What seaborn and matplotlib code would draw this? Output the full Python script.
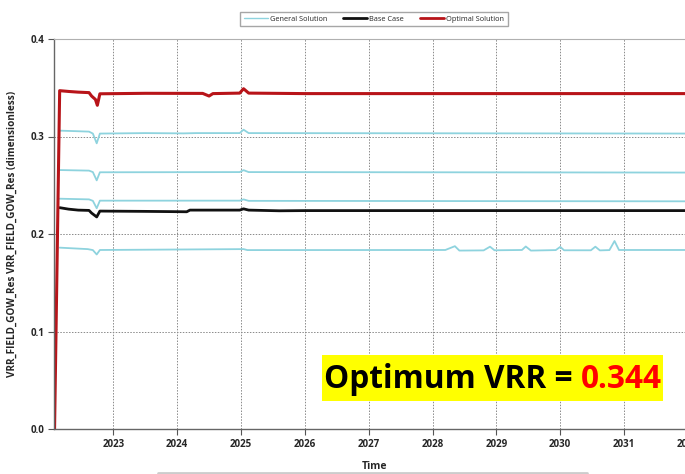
import matplotlib
matplotlib.use("Agg")
import matplotlib.pyplot as plt
import seaborn as sns
import pandas as pd
from matplotlib.lines import Line2D
from matplotlib.patches import Rectangle

# ---- data ----
t_red = [2022.08, 2022.16, 2022.30, 2022.45, 2022.62, 2022.66, 2022.72, 2022.75, 2022.79,
         2023.50, 2024.40, 2024.50, 2024.56, 2024.98, 2025.04, 2025.12, 2026.00, 2028.00, 2032.20]
v_red = [0.0, 0.347, 0.3462, 0.3455, 0.345, 0.3415, 0.338, 0.332, 0.3438,
         0.3443, 0.3442, 0.3415, 0.3440, 0.3445, 0.349, 0.3445, 0.3440, 0.3440, 0.3440]

t_base = [2022.16, 2022.30, 2022.45, 2022.62, 2022.66, 2022.74, 2022.79, 2023.50, 2024.15,
          2024.20, 2024.98, 2025.04, 2025.12, 2025.60, 2026.00, 2032.20]
v_base = [0.2270, 0.2255, 0.2245, 0.2242, 0.2215, 0.2175, 0.2235, 0.2232, 0.2228,
          0.2245, 0.2245, 0.2258, 0.2245, 0.2238, 0.2240, 0.2240]

t_gen1 = [2022.16, 2022.40, 2022.62, 2022.68, 2022.74, 2022.79, 2023.50, 2024.10, 2024.30,
          2024.98, 2025.04, 2025.12, 2032.20]
v_gen1 = [0.3060, 0.3055, 0.3050, 0.3030, 0.2930, 0.3030, 0.3035, 0.3032, 0.3035,
          0.3035, 0.3070, 0.3035, 0.3030]

t_gen2 = [2022.16, 2022.62, 2022.68, 2022.74, 2022.79, 2024.98, 2025.04, 2025.12, 2032.20]
v_gen2 = [0.2656, 0.2650, 0.2635, 0.2550, 0.2633, 0.2635, 0.2655, 0.2635, 0.2630]

t_gen3 = [2022.16, 2022.62, 2022.68, 2022.74, 2022.79, 2024.98, 2025.04, 2025.12, 2032.20]
v_gen3 = [0.2362, 0.2355, 0.2340, 0.2264, 0.2342, 0.2342, 0.2355, 0.2340, 0.2335]

t_gen4 = [2022.16, 2022.60, 2022.68, 2022.74, 2022.79, 2025.04, 2025.10, 2028.20, 2028.35,
          2028.42, 2028.80, 2028.90, 2028.97, 2029.40, 2029.46, 2029.54, 2029.93, 2030.00,
          2030.06, 2030.48, 2030.55, 2030.62, 2030.77, 2030.85, 2030.92, 2032.20]
v_gen4 = [0.1860, 0.1845, 0.1835, 0.1790, 0.1836, 0.1845, 0.1835, 0.1836, 0.1875,
          0.1830, 0.1832, 0.1870, 0.1833, 0.1836, 0.1872, 0.1830, 0.1835, 0.1868,
          0.1833, 0.1833, 0.1870, 0.1832, 0.1835, 0.1928, 0.1836, 0.1836]

year_ticks = [2023, 2024, 2025, 2026, 2027, 2028, 2029, 2030, 2031, 2032]
y_ticks = [0.0, 0.1, 0.2, 0.3, 0.4]
legend_labels = ["General Solution", "Base Case", "Optimal Solution"]
optimum_value = "0.344"

# ---- figure ----
sns.set_theme(style="white")
plt.rcParams['font.family'] = ['Open Sans', 'DejaVu Sans']

fig = plt.figure(figsize=(6.85, 4.74), dpi=100)
ax = fig.add_axes([54.3 / 685, 1 - 429 / 474, (695 - 54.3) / 685, 390 / 474])

cyan = "#8ed3de"
for t, v in [(t_gen1, v_gen1), (t_gen2, v_gen2), (t_gen3, v_gen3), (t_gen4, v_gen4)]:
    df = pd.DataFrame({"Time": t, "VRR": v})
    sns.lineplot(data=df, x="Time", y="VRR", ax=ax, color=cyan, lw=1.3, sort=False, estimator=None)
sns.lineplot(data=pd.DataFrame({"Time": t_base, "VRR": v_base}), x="Time", y="VRR", ax=ax,
             color="#111111", lw=2.0, sort=False, estimator=None)
sns.lineplot(data=pd.DataFrame({"Time": t_red, "VRR": v_red}), x="Time", y="VRR", ax=ax,
             color="#b81419", lw=2.2, sort=False, estimator=None)

ax.set_xlim(2022.076, 2022.076 + (695 - 54.3) / 63.85)
ax.set_ylim(0, 0.4)
ax.set_xticks(year_ticks)
ax.set_xticklabels([str(y) for y in year_ticks], fontsize=7, fontweight="bold")
ax.set_yticks(y_ticks)
ax.set_yticklabels([f"{y:.1f}" for y in y_ticks], fontsize=7, fontweight="bold")
ax.tick_params(axis="both", length=4, width=0.8, color="#555555", pad=3, direction="out",
               bottom=True, left=True)
ax.grid(True, axis="both", color="#8a8a8a", linestyle=(0, (1.5, 1.5)), linewidth=0.7)
for s in ["left", "bottom"]:
    ax.spines[s].set_color("#666666")
    ax.spines[s].set_linewidth(1.0)
ax.spines["top"].set_color("#b0b0b0")
ax.spines["top"].set_linewidth(0.8)
ax.spines["right"].set_visible(False)

ax.set_xlabel("Time", fontsize=7.5, fontweight="bold", labelpad=8)
ax.set_ylabel("VRR_FIELD_GOW_Res VRR_FIELD_GOW_Res (dimensionless)", fontsize=7.2,
              fontweight="bold", labelpad=12)
ax.yaxis.set_label_coords(-37 / 640.7, 0.5)

# legend
handles = [Line2D([], [], color=cyan, lw=1.0), Line2D([], [], color="#111111", lw=2.0),
           Line2D([], [], color="#b81419", lw=2.0)]
fig.legend(handles, legend_labels, loc="upper center", bbox_to_anchor=(374 / 685, 1 - 8 / 474),
           ncol=3, fontsize=5.3, frameon=True, fancybox=False, edgecolor="#909090",
           handlelength=3.2, columnspacing=2.2, handletextpad=0.3, borderpad=0.5)

# annotation box
fig.patches.append(Rectangle((322 / 685, 1 - 401 / 474), 341 / 685, 46 / 474,
                             transform=fig.transFigure, facecolor="#ffff00", edgecolor="none",
                             zorder=5))
fs = 22.8
t1 = fig.text(0, 1 - 379 / 474, "Optimum VRR = ", fontsize=fs, fontweight="bold",
              color="black", ha="left", va="center", zorder=6)
t2 = fig.text(0, 1 - 379 / 474, optimum_value, fontsize=fs, fontweight="bold",
              color="#ff0000", ha="left", va="center", zorder=6)
fig.canvas.draw()
r = fig.canvas.get_renderer()
w1 = t1.get_window_extent(r).width
w2 = t2.get_window_extent(r).width
total = w1 + w2
x0 = (322 + 341 / 2) - total / 2
t1.set_x(x0 / 685)
t2.set_x((x0 + w1) / 685)

# scrollbar-like gray line at bottom
fig.add_artist(Line2D([158 / 685, 587 / 685], [1 - 472.5 / 474] * 2, transform=fig.transFigure,
                      color="#cccccc", lw=2))

fig.savefig("out.png", dpi=100)
